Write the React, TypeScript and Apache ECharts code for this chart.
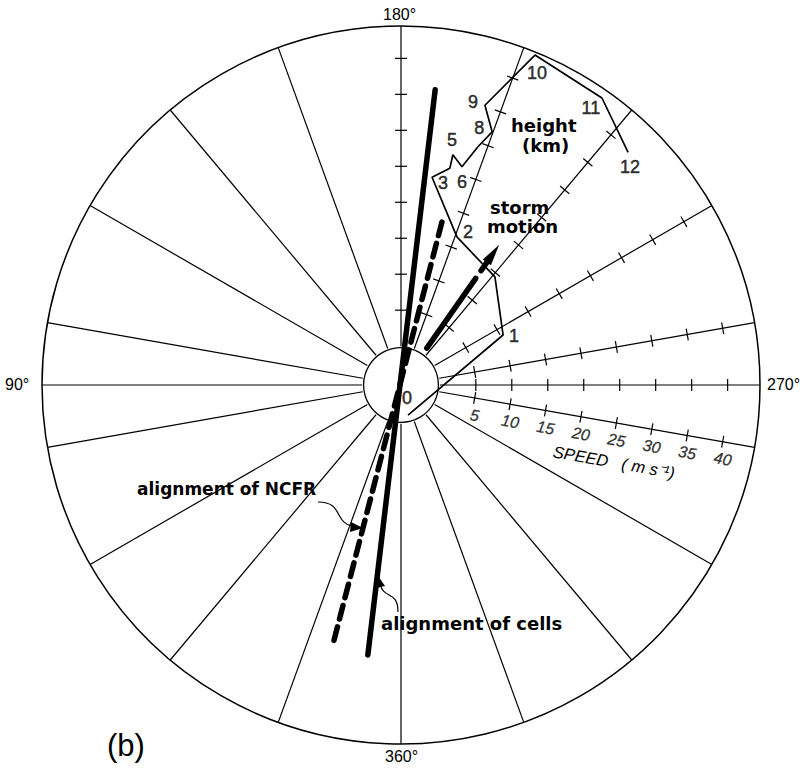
import React, { useEffect, useRef } from "react";
import * as echarts from "echarts";

// ---- scale of the hodograph (speed axis, m/s) ----
const SPEED_MIN = -5.4;
const SPEED_MAX = 44.5;

// ---- spokes (direction, degrees) ----
const spokeDirections = [0, 20, 40, 60, 80, 90, 100, 120, 140, 160, 180, 200, 220, 240, 260, 270, 280, 300, 320, 340];
const tickedSpokes = [180, 200, 220, 240, 260, 270, 280];
const speedTicks = [5, 10, 15, 20, 25, 30, 35, 40];
const speedLabelSpoke = 280;

// ---- hodograph: wind by height ----
const heightLabels = ["0", "1", "", "2", "3", "", "5", "6", "", "8", "9", "10", "11", "12"];
const windSpeed = [-1.1, 10.4, 14.5, 16.6, 23.8, 25.5, 27.4, 26.1, 29.4, 32.0, 35.2, 44.1, 43.3, 39.8];
const windDir = [346.9, 243.9, 221.0, 200.7, 188.5, 192.7, 192.7, 195.6, 197.9, 199.8, 196.7, 202.1, 215.0, 224.3];

// ---- storm motion ----
const stormDir = 215;
const stormShaft = [0.85, 12.7];
const stormDash = [14.0, 15.4];
const stormTip = 18.4;

// ---- alignments (speed, direction) end points ----
const cellsLine = [[35.9, 186.6], [32.4, 7.0]];
const ncfrLine = [[17.95, 194.1], [32.4, 14.7]];

// label offsets (pixels) for height labels, in the order of heightLabels
const heightLabelOffsets = [[-1, -17], [11, 1], [0, 0], [11, -5], [11, 6], [0, 0], [-1, -15], [0, 15], [0, 0], [-13, -4], [-12, -3], [2, 18], [-11, 10], [2, 15]];

const FONT = "'Liberation Sans', Arial, Helvetica, sans-serif";
const BOLD = "bold 18px 'DejaVu Sans', Verdana, sans-serif";
const BOLD17 = "bold 17px 'DejaVu Sans', Verdana, sans-serif";

export default function App() {
  const ref = useRef<HTMLDivElement>(null);
  useEffect(() => {
    if (!ref.current) return;
    const chart = echarts.init(ref.current, null, { renderer: "svg" });

    const spokeSeries = spokeDirections.map((d) => ({
      type: "line",
      coordinateSystem: "polar",
      symbol: "none",
      silent: true,
      z: 1,
      lineStyle: { color: "#000", width: 1.2 },
      data: [[0, d], [SPEED_MAX, d]],
    }));

    const tickData: number[][] = [];
    tickedSpokes.forEach((d) => speedTicks.forEach((s) => tickData.push([s, d])));

    const trace = windSpeed.map((s, i) => [s, windDir[i]]);

    const labelData = heightLabels
      .map((h, i) => ({ h, i }))
      .filter((o) => o.h !== "")
      .map((o) => ({
        name: o.h,
        value: [windSpeed[o.i], windDir[o.i]],
        label: { offset: heightLabelOffsets[o.i] },
      }));

    const option: any = {
      animation: false,
      backgroundColor: "#fff",
      polar: { center: [401, 385], radius: 359 },
      angleAxis: {
        type: "value",
        min: 0,
        max: 360,
        startAngle: 270,
        clockwise: true,
        axisLine: { show: true, lineStyle: { color: "#000", width: 1.5 } },
        axisTick: { show: false },
        axisLabel: { show: false },
        splitLine: { show: false },
      },
      radiusAxis: {
        type: "value",
        min: SPEED_MIN,
        max: SPEED_MAX,
        axisLine: { show: false },
        axisTick: { show: false },
        axisLabel: { show: false },
        splitLine: { show: false },
      },
      series: [
        ...spokeSeries,
        {
          type: "custom",
          coordinateSystem: "polar",
          silent: true,
          z: 2,
          data: tickData,
          renderItem: (params: any, api: any) => {
            const s = api.value(0);
            const d = api.value(1);
            const p = api.coord([s, d]);
            const q = api.coord([s + 1, d]);
            let ux = q[0] - p[0];
            let uy = q[1] - p[1];
            const L = Math.hypot(ux, uy) || 1;
            ux /= L;
            uy /= L;
            const h = 6;
            return {
              type: "line",
              shape: { x1: p[0] - uy * h, y1: p[1] + ux * h, x2: p[0] + uy * h, y2: p[1] - ux * h },
              style: { stroke: "#000", lineWidth: 1.2 },
            };
          },
        },
        {
          type: "custom",
          coordinateSystem: "polar",
          silent: true,
          z: 2,
          data: [[0, 0]],
          renderItem: (params: any, api: any) => {
            const c = api.coord([SPEED_MIN, 0]);
            const p = api.coord([-0.2, 0]);
            const r = Math.hypot(p[0] - c[0], p[1] - c[1]);
            return {
              type: "circle",
              shape: { cx: c[0], cy: c[1], r },
              style: { fill: "none", stroke: "#000", lineWidth: 1.3 },
            };
          },
        },
        {
          type: "line",
          coordinateSystem: "polar",
          symbol: "none",
          silent: true,
          z: 3,
          lineStyle: { color: "#000", width: 1.7 },
          data: trace,
        },
        {
          type: "scatter",
          coordinateSystem: "polar",
          symbolSize: 0,
          silent: true,
          z: 6,
          data: labelData,
          label: {
            show: true,
            position: "inside",
            formatter: "{b}",
            fontSize: 18,
            color: "#000",
            textBorderColor: "#000",
            textBorderWidth: 0.5,
            fontFamily: FONT,
          },
        },
        {
          type: "scatter",
          coordinateSystem: "polar",
          symbolSize: 0,
          silent: true,
          z: 6,
          data: speedTicks.map((s) => ({ name: String(s), value: [s, speedLabelSpoke] })),
          label: {
            show: true,
            position: "inside",
            formatter: "{b}",
            offset: [3, 17],
            rotate: -10,
            fontSize: 16,
            fontStyle: "italic",
            color: "#000",
            textBorderColor: "#000",
            textBorderWidth: 0.3,
            fontFamily: FONT,
          },
        },
        // alignment of cells
        {
          type: "line",
          coordinateSystem: "polar",
          symbol: "none",
          silent: true,
          z: 4,
          lineStyle: { color: "#000", width: 5.5, cap: "round" },
          data: cellsLine,
        },
        // alignment of NCFR
        {
          type: "line",
          coordinateSystem: "polar",
          symbol: "none",
          silent: true,
          z: 4,
          lineStyle: { color: "#000", width: 5.5, type: [14, 8], cap: "round" },
          data: ncfrLine,
        },
        // storm motion
        {
          type: "line",
          coordinateSystem: "polar",
          symbol: "none",
          silent: true,
          z: 4,
          lineStyle: { color: "#000", width: 5.5, cap: "round" },
          data: [[stormShaft[0], stormDir], [stormShaft[1], stormDir]],
        },
        {
          type: "line",
          coordinateSystem: "polar",
          symbol: "none",
          silent: true,
          z: 4,
          lineStyle: { color: "#000", width: 5.5, cap: "round" },
          data: [[stormDash[0], stormDir], [stormDash[1], stormDir]],
        },
        {
          type: "custom",
          coordinateSystem: "polar",
          silent: true,
          z: 4,
          data: [[stormTip, stormDir]],
          renderItem: (params: any, api: any) => {
            const s = api.value(0);
            const d = api.value(1);
            const tip = api.coord([s, d]);
            const base = api.coord([s - 3.0, d]);
            let ux = tip[0] - base[0];
            let uy = tip[1] - base[1];
            const L = Math.hypot(ux, uy) || 1;
            ux /= L;
            uy /= L;
            const w = 5;
            return {
              type: "polygon",
              shape: {
                points: [
                  tip,
                  [base[0] - uy * w, base[1] + ux * w],
                  [base[0] + uy * w, base[1] - ux * w],
                ],
              },
              style: { fill: "#000" },
            };
          },
        },
      ],
      graphic: [
        { type: "text", left: 383, top: 6, style: { text: "180°", font: `16px ${FONT}`, fill: "#000" } },
        { type: "text", left: 5, top: 376, style: { text: "90°", font: `16px ${FONT}`, fill: "#000" } },
        { type: "text", left: 767, top: 376, style: { text: "270°", font: `16px ${FONT}`, fill: "#000" } },
        { type: "text", left: 385, top: 748, style: { text: "360°", font: `16px ${FONT}`, fill: "#000" } },
        { type: "text", left: 107, top: 730, style: { text: "(b)", font: `31px ${FONT}`, fill: "#000" } },
        { type: "text", left: 511, top: 116, style: { text: "height", font: BOLD, fill: "#000" } },
        { type: "text", left: 522, top: 136, style: { text: "(km)", font: BOLD, fill: "#000" } },
        { type: "text", left: 490, top: 198, style: { text: "storm", font: BOLD, fill: "#000" } },
        { type: "text", left: 487, top: 217, style: { text: "motion", font: BOLD, fill: "#000" } },
        { type: "text", left: 137, top: 480, style: { text: "alignment of NCFR", font: BOLD17, fill: "#000" } },
        { type: "text", left: 381, top: 614, style: { text: "alignment of cells", font: BOLD, fill: "#000" } },
        {
          type: "text",
          x: 614,
          y: 462,
          rotation: (-10 * Math.PI) / 180,
          style: { text: "SPEED   ( m s⁻¹)", font: `italic 16.5px ${FONT}`, fill: "#000", align: "center", verticalAlign: "middle" },
        },
        {
          type: "bezierCurve",
          shape: { x1: 318, y1: 502, cpx1: 345, cpy1: 502, cpx2: 332, cpy2: 524, x2: 356, y2: 527 },
          style: { stroke: "#000", lineWidth: 1.2, fill: "none" },
        },
        { type: "polygon", shape: { points: [[351, 522], [363, 528], [350, 532]] }, style: { fill: "#000" } },
        {
          type: "bezierCurve",
          shape: { x1: 398, y1: 612, cpx1: 398, cpy1: 590, cpx2: 384, cpy2: 600, x2: 380, y2: 584 },
          style: { stroke: "#000", lineWidth: 1.2, fill: "none" },
        },
        { type: "polygon", shape: { points: [[376, 588], [378, 576], [385, 586]] }, style: { fill: "#000" } },
      ],
    };
    chart.setOption(option);
    return () => chart.dispose();
  }, []);
  return <div ref={ref} style={{ position: "absolute", left: 0, top: 0, width: 808, height: 769 }} />;
}
